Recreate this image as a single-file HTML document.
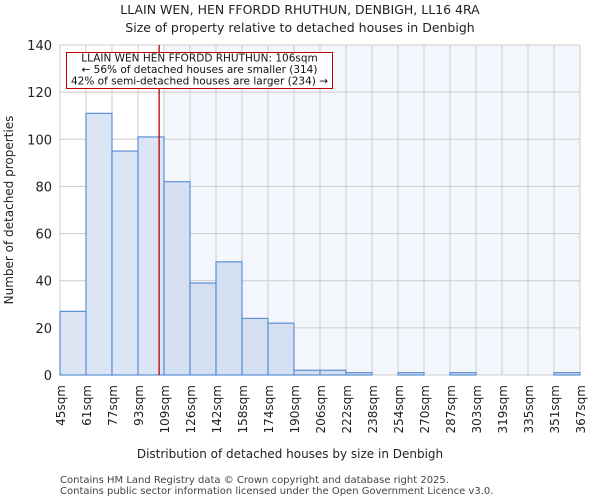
<!DOCTYPE html>
<html><head><meta charset="utf-8"><style>
body{margin:0;background:#fff;font-family:"DejaVu Sans","Liberation Sans",sans-serif;}
</style></head><body>
<svg id="chart" width="600" height="500" xmlns="http://www.w3.org/2000/svg">
<text x="300" y="14" font-size="12.5" text-anchor="middle" fill="#222">LLAIN WEN, HEN FFORDD RHUTHUN, DENBIGH, LL16 4RA</text>
<text x="300" y="32" font-size="12.5" text-anchor="middle" fill="#222">Size of property relative to detached houses in Denbigh</text>
<g id="plot"></g>
<text x="290" y="458" font-size="12" text-anchor="middle" fill="#222">Distribution of detached houses by size in Denbigh</text>
<text transform="translate(13,210) rotate(-90)" font-size="12" text-anchor="middle" fill="#222">Number of detached properties</text>
<text x="60" y="483" font-size="10" fill="#444">Contains HM Land Registry data © Crown copyright and database right 2025.</text>
<text x="60" y="494" font-size="10" fill="#444">Contains public sector information licensed under the Open Government Licence v3.0.</text>
</svg>
<script>
const binLabels=["45sqm","61sqm","77sqm","93sqm","109sqm","126sqm","142sqm","158sqm","174sqm","190sqm","206sqm","222sqm","238sqm","254sqm","270sqm","287sqm","303sqm","319sqm","335sqm","351sqm","367sqm"];
const binEdges=[45,61,77,93,109,126,142,158,174,190,206,222,238,254,270,287,303,319,335,351,367];
const counts=[27,111,95,101,82,39,48,24,22,2,2,1,0,1,0,1,0,0,0,1];
const yTicks=[0,20,40,60,80,100,120,140];
const markerSize=106;
const NS="http://www.w3.org/2000/svg";
const g=document.getElementById('plot');
const X0=60,X1=580,Y0=375,Y1=45,YMAX=140,n=counts.length,bw=(X1-X0)/n;
function xi(i){return X0+i*bw;}
function xv(v){for(let i=0;i<binEdges.length-1;i++){if(v<=binEdges[i+1])return xi(i)+bw*(v-binEdges[i])/(binEdges[i+1]-binEdges[i]);}return X1;}
function y(v){return Y0-(Y0-Y1)*v/YMAX;}
function mk(t,a){const e=document.createElementNS(NS,t);for(const k in a)e.setAttribute(k,a[k]);g.appendChild(e);return e;}
let mi=0;while(mi<n&&binEdges[mi+1]<=markerSize)mi++;
const shadeX=xi(mi+1);
let e=mk('rect',{x:shadeX,y:Y1,width:X1-shadeX,height:Y0-Y1,fill:'#f3f6fd'});


for(let i=0;i<=n;i++){e=mk('line',{x1:xi(i),x2:xi(i),y1:Y1,y2:Y0,stroke:'#cccccc','stroke-width':1});

}
yTicks.forEach(t=>{e=mk('line',{x1:X0,x2:X1,y1:y(t),y2:y(t),stroke:'#cccccc','stroke-width':1});


e=mk('text',{x:X0-8,y:y(t)+5,'font-size':13,'text-anchor':'end',fill:'#222'});e.textContent=t;

});
counts.forEach((c,i)=>{if(c<=0)return;e=mk('rect',{x:xi(i),y:y(c),width:bw,height:Y0-y(c),fill:i<=mi?'#dce5f4':'#d5dff2',stroke:'#5b8fd6','stroke-width':1.2});

});
binLabels.forEach((l,i)=>{e=mk('text',{transform:`translate(${xi(i)+5},385) rotate(-90)`,'font-size':12,'text-anchor':'end',fill:'#222'});e.textContent=l;

});
const mx=xv(markerSize);
e=mk('line',{x1:mx,x2:mx,y1:Y1,y2:Y0,stroke:'#c00000','stroke-width':1.3});


e=mk('rect',{x:66.5,y:52.5,width:266,height:36,fill:'#fff',stroke:'#c00000','stroke-width':1});


["LLAIN WEN HEN FFORDD RHUTHUN: 106sqm","← 56% of detached houses are smaller (314)","42% of semi-detached houses are larger (234) →"].forEach((s,k)=>{
e=mk('text',{x:199.5,y:61.5+k*11.5,'font-size':10.5,'text-anchor':'middle',fill:'#111'});e.textContent=s;

});
</script>
</body></html>
